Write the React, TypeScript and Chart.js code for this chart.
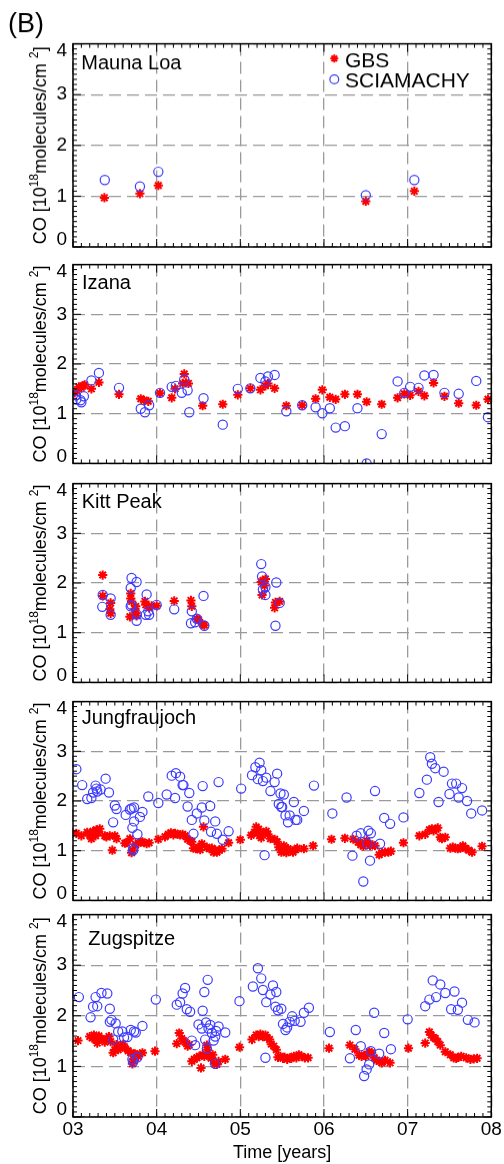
import React, { useEffect, useRef } from "react";
import { Chart, registerables } from "chart.js";

Chart.register(...registerables);

const FAMILY = '"Liberation Sans", Arial, Helvetica, sans-serif';
Chart.defaults.font.family = FAMILY;
Chart.defaults.color = "#000";

// ---------- labels ----------
const xTickLabels = ["03", "04", "05", "06", "07", "08"];
const yTickLabels = ["0", "1", "2", "3", "4"];
const stationNames = ["Mauna Loa", "Izana", "Kitt Peak", "Jungfraujoch", "Zugspitze"];
const seriesNames = ["GBS", "SCIAMACHY"];
const xTitle = "Time [years]";
const panelTag = "(B)";

type P = [number, number];

// ---------- data: [year since 2000, CO 1e18 molec/cm2] ----------
const maunaLoaGBS: P[] = [
  [3.375, 0.97], [3.8, 1.05], [4.02, 1.21], [6.5, 0.9], [7.08, 1.1],
];
const maunaLoaSCIA: P[] = [
  [3.38, 1.32], [3.8, 1.19], [4.02, 1.48], [6.5, 1.02], [7.08, 1.32],
];

const izanaGBS: P[] = [
  [3.02, 1.42], [3.05, 1.46], [3.07, 1.54], [3.1, 1.53], [3.12, 1.56], [3.14, 1.58],
  [3.22, 1.5], [3.31, 1.63], [3.55, 1.39], [3.81, 1.3], [3.85, 1.27], [3.9, 1.25],
  [4.04, 1.41], [4.18, 1.32], [4.22, 1.5], [4.31, 1.61], [4.33, 1.8], [4.35, 1.62],
  [4.38, 1.61], [4.55, 1.16], [4.79, 1.19], [4.97, 1.38], [5.12, 1.51], [5.24, 1.48],
  [5.3, 1.56], [5.33, 1.61], [5.41, 1.51], [5.55, 1.16], [5.74, 1.17], [5.9, 1.3],
  [5.98, 1.48], [6.07, 1.33], [6.14, 1.29], [6.25, 1.39], [6.4, 1.39], [6.51, 1.24],
  [6.69, 1.19], [6.88, 1.32], [6.96, 1.4], [7.03, 1.37], [7.13, 1.45], [7.2, 1.36],
  [7.31, 1.62], [7.44, 1.35], [7.61, 1.21], [7.82, 1.17], [7.96, 1.29],
];
const izanaSCIA: P[] = [
  [3.036, 1.37], [3.04, 1.29], [3.09, 1.27], [3.1, 1.23], [3.13, 1.35], [3.22, 1.67],
  [3.31, 1.82], [3.55, 1.52], [3.81, 1.1], [3.86, 1.03], [3.91, 1.17], [4.04, 1.42],
  [4.18, 1.54], [4.23, 1.56], [4.3, 1.42], [4.33, 1.69], [4.37, 1.47], [4.39, 1.03],
  [4.56, 1.31], [4.79, 0.78], [4.97, 1.5], [5.12, 1.51], [5.24, 1.72], [5.3, 1.65],
  [5.33, 1.75], [5.41, 1.78], [5.55, 1.05], [5.74, 1.17], [5.9, 1.13], [5.98, 1.01],
  [6.07, 1.11], [6.14, 0.72], [6.25, 0.75], [6.4, 1.11], [6.51, 0.0], [6.69, 0.59],
  [6.88, 1.65], [6.96, 1.42], [7.03, 1.54], [7.13, 1.52], [7.2, 1.77], [7.31, 1.78],
  [7.44, 1.42], [7.61, 1.4], [7.82, 1.66], [7.96, 0.93],
];

const kittPeakGBS: P[] = [
  [3.355, 2.16], [3.355, 1.74], [3.45, 1.6], [3.44, 1.47], [3.45, 1.39], [3.68, 1.32],
  [3.69, 1.79], [3.69, 1.69], [3.7, 1.63], [3.74, 1.48], [3.75, 1.4], [3.76, 1.34],
  [3.75, 1.53], [3.86, 1.63], [3.87, 1.56], [3.91, 1.5], [3.94, 1.54], [4.0, 1.54],
  [4.21, 1.64], [4.41, 1.65], [4.42, 1.53], [4.48, 1.28], [4.5, 1.26], [4.55, 1.17],
  [4.57, 1.15], [5.25, 2.02], [5.26, 1.76], [5.27, 2.05], [5.29, 1.95], [5.3, 2.08],
  [5.41, 1.5], [5.42, 1.61], [5.47, 1.63],
];
const kittPeakSCIA: P[] = [
  [3.355, 1.76], [3.35, 1.52], [3.45, 1.69], [3.45, 1.36], [3.7, 2.1], [3.69, 1.9],
  [3.69, 1.53], [3.7, 1.56], [3.76, 2.02], [3.76, 1.24], [3.76, 1.37], [3.88, 1.77],
  [3.87, 1.36], [3.91, 1.36], [3.9, 1.43], [4.0, 1.56], [4.21, 1.47], [4.42, 1.43],
  [4.41, 1.19], [4.46, 1.21], [4.48, 1.28], [4.56, 1.74], [4.57, 1.14], [5.25, 2.38],
  [5.26, 2.13], [5.27, 1.87], [5.3, 1.92], [5.3, 1.76], [5.43, 2.01], [5.42, 1.14],
  [5.47, 1.6],
];

const jungfraujochGBS: P[] = [
  [3.04, 1.35], [3.1, 1.3], [3.17, 1.37], [3.2, 1.31], [3.22, 1.24], [3.24, 1.39],
  [3.26, 1.35], [3.28, 1.42], [3.3, 1.37], [3.32, 1.44], [3.27, 1.3], [3.38, 1.3],
  [3.4, 1.28], [3.44, 1.3], [3.47, 1.01], [3.5, 1.3], [3.52, 1.24], [3.62, 1.15],
  [3.64, 1.16], [3.68, 1.24], [3.7, 0.96], [3.71, 1.01], [3.75, 1.12], [3.78, 1.16],
  [3.81, 1.17], [3.83, 1.18], [3.88, 1.14], [3.91, 1.16], [4.02, 1.23], [4.1, 1.28],
  [4.14, 1.33], [4.17, 1.36], [4.2, 1.32], [4.22, 1.35], [4.25, 1.33], [4.28, 1.32],
  [4.31, 1.33], [4.34, 1.3], [4.37, 1.23], [4.4, 1.2], [4.42, 1.18], [4.44, 1.05],
  [4.47, 1.04], [4.5, 1.07], [4.52, 1.02], [4.54, 1.14], [4.56, 1.48], [4.6, 1.07],
  [4.63, 1.04], [4.66, 1.05], [4.68, 0.97], [4.7, 1.01], [4.72, 0.97], [4.75, 1.01],
  [4.78, 1.04], [4.86, 1.16], [5.0, 1.22], [5.13, 1.31], [5.17, 1.37], [5.19, 1.48],
  [5.22, 1.43], [5.23, 1.3], [5.25, 1.26], [5.27, 1.35], [5.31, 1.39], [5.33, 1.33],
  [5.36, 1.24], [5.41, 1.23], [5.44, 1.18], [5.46, 1.07], [5.49, 0.97], [5.5, 1.05],
  [5.52, 1.1], [5.55, 0.96], [5.57, 1.04], [5.6, 1.01], [5.63, 0.97], [5.66, 1.02],
  [5.68, 1.05], [5.76, 1.04], [5.87, 1.1], [6.09, 1.23], [6.25, 1.25], [6.35, 1.23],
  [6.41, 1.17], [6.44, 1.12], [6.47, 1.09], [6.49, 1.16], [6.51, 1.2], [6.55, 1.1],
  [6.58, 1.12], [6.61, 1.1], [6.66, 0.92], [6.69, 0.96], [6.73, 0.97], [6.77, 0.97],
  [6.8, 0.99], [6.95, 1.16], [7.14, 1.3], [7.21, 1.33], [7.26, 1.42], [7.29, 1.44],
  [7.31, 1.4], [7.34, 1.43], [7.36, 1.46], [7.39, 1.27], [7.41, 1.24], [7.45, 1.27],
  [7.51, 1.05], [7.54, 1.07], [7.57, 1.05], [7.6, 1.04], [7.63, 1.05], [7.66, 1.1],
  [7.69, 1.05], [7.73, 1.01], [7.77, 0.97], [7.89, 1.09],
];
const jungfraujochSCIA: P[] = [
  [3.04, 2.64], [3.11, 2.32], [3.17, 2.04], [3.22, 2.06], [3.24, 2.17], [3.27, 2.31],
  [3.28, 2.25], [3.29, 2.19], [3.33, 2.23], [3.39, 2.45], [3.43, 2.17], [3.48, 1.57],
  [3.5, 1.91], [3.52, 1.84], [3.63, 1.72], [3.68, 1.83], [3.7, 1.85], [3.73, 1.87],
  [3.71, 1.46], [3.73, 1.59], [3.77, 1.33], [3.72, 1.05], [3.72, 1.01], [3.8, 1.68],
  [3.83, 1.78], [3.9, 2.09], [4.02, 1.96], [4.12, 2.13], [4.18, 2.51], [4.23, 2.56],
  [4.28, 2.49], [4.22, 2.06], [4.31, 2.32], [4.32, 2.32], [4.37, 1.89], [4.39, 2.16],
  [4.42, 1.62], [4.44, 1.34], [4.48, 1.75], [4.54, 1.87], [4.55, 2.3], [4.57, 1.61],
  [4.64, 1.9], [4.65, 1.38], [4.7, 1.59], [4.72, 1.34], [4.74, 2.38], [4.79, 1.22],
  [4.86, 1.39], [5.01, 2.25], [5.14, 2.52], [5.18, 2.68], [5.21, 2.44], [5.23, 2.77],
  [5.25, 2.62], [5.27, 2.4], [5.31, 2.47], [5.29, 0.91], [5.36, 2.2], [5.41, 2.38],
  [5.44, 2.55], [5.46, 1.94], [5.48, 2.15], [5.49, 1.88], [5.5, 1.88], [5.52, 2.13],
  [5.54, 1.71], [5.57, 1.57], [5.59, 1.71], [5.64, 1.98], [5.66, 1.62], [5.68, 1.62],
  [5.76, 1.8], [5.88, 2.31], [6.1, 1.75], [6.27, 2.07], [6.34, 0.9], [6.39, 1.3],
  [6.44, 1.35], [6.47, 0.38], [6.52, 1.14], [6.53, 1.4], [6.55, 0.8], [6.56, 1.35],
  [6.61, 2.2], [6.67, 1.14], [6.72, 1.66], [6.79, 1.54], [6.95, 1.67], [7.14, 2.16],
  [7.23, 2.43], [7.27, 2.88], [7.29, 2.75], [7.33, 2.66], [7.37, 1.98], [7.43, 2.59],
  [7.5, 2.14], [7.53, 2.35], [7.58, 2.35], [7.61, 2.07], [7.65, 2.26], [7.71, 2.0],
  [7.76, 1.75], [7.89, 1.81],
];

const zugspitzeGBS: P[] = [
  [3.06, 1.51], [3.2, 1.59], [3.23, 1.56], [3.25, 1.62], [3.27, 1.55], [3.29, 1.46],
  [3.31, 1.6], [3.34, 1.55], [3.38, 1.48], [3.4, 1.53], [3.43, 1.59], [3.45, 1.49],
  [3.48, 1.27], [3.5, 1.33], [3.52, 1.43], [3.54, 1.33], [3.57, 1.4], [3.6, 1.44],
  [3.62, 1.36], [3.66, 1.31], [3.69, 1.27], [3.72, 1.14], [3.71, 1.05], [3.74, 1.25],
  [3.76, 1.23], [3.78, 1.2], [3.83, 1.27], [3.98, 1.3], [4.24, 1.45], [4.27, 1.66],
  [4.3, 1.55], [4.32, 1.51], [4.34, 1.48], [4.37, 1.4], [4.39, 1.43], [4.42, 1.1],
  [4.45, 1.14], [4.48, 1.17], [4.51, 1.2], [4.53, 0.97], [4.55, 1.23], [4.57, 1.2],
  [4.6, 1.42], [4.61, 1.33], [4.63, 1.2], [4.65, 1.16], [4.67, 1.23], [4.69, 1.05],
  [4.72, 1.04], [4.74, 1.1], [4.82, 1.14], [4.99, 1.38], [5.14, 1.53], [5.19, 1.62],
  [5.22, 1.59], [5.24, 1.64], [5.27, 1.59], [5.3, 1.62], [5.32, 1.57], [5.35, 1.53],
  [5.37, 1.44], [5.4, 1.4], [5.43, 1.33], [5.45, 1.18], [5.48, 1.2], [5.51, 1.16],
  [5.53, 1.18], [5.56, 1.14], [5.59, 1.17], [5.61, 1.16], [5.64, 1.2], [5.67, 1.17],
  [5.7, 1.23], [5.73, 1.2], [5.77, 1.17], [5.81, 1.17], [6.06, 1.36], [6.31, 1.42],
  [6.37, 1.34], [6.42, 1.22], [6.45, 1.2], [6.48, 1.22], [6.5, 1.2], [6.54, 1.29],
  [6.57, 1.27], [6.6, 1.17], [6.63, 1.12], [6.66, 1.1], [6.69, 1.07], [6.73, 1.12],
  [6.79, 1.07], [7.01, 1.36], [7.21, 1.46], [7.26, 1.68], [7.28, 1.62], [7.31, 1.57],
  [7.33, 1.55], [7.36, 1.49], [7.39, 1.42], [7.45, 1.29], [7.51, 1.23], [7.55, 1.17],
  [7.58, 1.16], [7.6, 1.18], [7.64, 1.2], [7.7, 1.17], [7.75, 1.14], [7.79, 1.15],
  [7.83, 1.16],
];
const zugspitzeSCIA: P[] = [
  [3.07, 2.37], [3.21, 1.97], [3.24, 2.18], [3.27, 2.37], [3.29, 2.19], [3.34, 2.45],
  [3.41, 2.44], [3.44, 2.14], [3.44, 1.88], [3.46, 1.92], [3.51, 1.85], [3.48, 1.53],
  [3.54, 1.69], [3.59, 1.69], [3.61, 1.57], [3.65, 1.58], [3.69, 1.72], [3.73, 1.69],
  [3.75, 1.67], [3.71, 1.14], [3.72, 1.09], [3.77, 1.18], [3.83, 1.8], [3.99, 2.32],
  [4.24, 2.22], [4.28, 2.27], [4.31, 2.44], [4.34, 2.55], [4.36, 2.13], [4.4, 2.08],
  [4.42, 1.51], [4.46, 1.42], [4.5, 1.83], [4.54, 1.75], [4.55, 2.1], [4.57, 2.47],
  [4.58, 1.53], [4.59, 1.87], [4.6, 1.35], [4.61, 2.71], [4.62, 1.75], [4.64, 1.82],
  [4.66, 1.66], [4.68, 1.51], [4.7, 1.59], [4.71, 1.7], [4.74, 1.79], [4.7, 1.05],
  [4.82, 1.67], [4.99, 2.29], [5.15, 2.58], [5.21, 2.94], [5.25, 2.74], [5.27, 2.51],
  [5.31, 2.27], [5.3, 1.17], [5.36, 2.42], [5.39, 2.6], [5.43, 2.47], [5.42, 2.18],
  [5.45, 2.11], [5.49, 2.14], [5.51, 1.84], [5.54, 1.72], [5.56, 1.77], [5.59, 1.88],
  [5.62, 1.99], [5.65, 1.9], [5.72, 1.88], [5.76, 2.06], [5.82, 2.16], [6.07, 1.68],
  [6.31, 1.16], [6.38, 1.72], [6.44, 1.4], [6.48, 0.81], [6.51, 0.94], [6.54, 1.04],
  [6.56, 1.3], [6.6, 2.06], [6.66, 1.25], [6.72, 1.66], [6.8, 1.34], [7.0, 1.93],
  [7.21, 2.19], [7.26, 2.32], [7.3, 2.7], [7.34, 2.37], [7.39, 2.62], [7.45, 2.45],
  [7.52, 2.13], [7.56, 2.48], [7.6, 2.12], [7.65, 2.26], [7.72, 1.92], [7.8, 1.87],
];

const gbsSeries: P[][] = [maunaLoaGBS, izanaGBS, kittPeakGBS, jungfraujochGBS, zugspitzeGBS];
const sciaSeries: P[][] = [maunaLoaSCIA, izanaSCIA, kittPeakSCIA, jungfraujochSCIA, zugspitzeSCIA];

// ---------- layout ----------
const W = 504;
const H_PAGE = 1164;
const PLOT_TOPS = [43.6, 261.2, 479.5, 697.5, 910.8];
const PLOT_H = 206;
const PLOT_LEFT = 73;
const PLOT_RIGHT = 491.3;
const NAME_OFFSETS: [number, number][] = [[8.3, 25.7], [9, 24], [8.7, 24], [8.7, 22.5], [15.3, 30]];
const RED = "#ff0000";
const BLUE = "#3c3cff";

function drawStar(ctx: CanvasRenderingContext2D, x: number, y: number, r: number) {
  ctx.beginPath();
  for (let k = 0; k < 4; k++) {
    const a = (k * Math.PI) / 4;
    ctx.moveTo(x - Math.cos(a) * r, y - Math.sin(a) * r);
    ctx.lineTo(x + Math.cos(a) * r, y + Math.sin(a) * r);
  }
  ctx.stroke();
}

function makeFramePlugin(idx: number) {
  return {
    id: "frame" + idx,
    afterDraw(chart: any) {
      const { ctx, chartArea: a, scales } = chart;
      const xs = scales.x;
      const ys = scales.y;
      ctx.save();
      // box
      ctx.strokeStyle = "#000";
      ctx.lineWidth = 1.5;
      ctx.setLineDash([]);
      ctx.strokeRect(a.left, a.top, a.right - a.left, a.bottom - a.top);
      // inward ticks on all sides
      ctx.lineWidth = 1;
      ctx.beginPath();
      for (let i = 0; i <= 50; i++) {
        const px = xs.getPixelForValue(3 + i / 10);
        const len = i % 10 === 0 ? 8 : 4;
        ctx.moveTo(px, a.bottom);
        ctx.lineTo(px, a.bottom - len);
        ctx.moveTo(px, a.top);
        ctx.lineTo(px, a.top + len);
      }
      for (let i = 0; i <= 40; i++) {
        const py = ys.getPixelForValue(i / 10);
        const len = i % 10 === 0 ? 8 : 4;
        ctx.moveTo(a.left, py);
        ctx.lineTo(a.left + len, py);
        ctx.moveTo(a.right, py);
        ctx.lineTo(a.right - len, py);
      }
      ctx.stroke();

      // station name
      ctx.fillStyle = "#000";
      ctx.textAlign = "left";
      ctx.textBaseline = "alphabetic";
      ctx.font = `20px ${FAMILY}`;
      ctx.fillText(stationNames[idx], a.left + NAME_OFFSETS[idx][0], a.top + NAME_OFFSETS[idx][1]);

      // y axis title with superscripts
      const big = `18px ${FAMILY}`;
      const small = `12px ${FAMILY}`;
      const pieces: [string, string, number][] = [
        ["CO [10", big, 0],
        ["18", small, -8],
        ["molecules/cm", big, 0],
        [" ", big, 0],
        ["2", small, -8],
        ["]", big, 0],
      ];
      let total = 0;
      for (const [t, f] of pieces) {
        ctx.font = f;
        total += ctx.measureText(t).width;
      }
      ctx.save();
      ctx.translate(45.5, (a.top + a.bottom) / 2);
      ctx.rotate(-Math.PI / 2);
      let cx = -total / 2;
      for (const [t, f, dy] of pieces) {
        ctx.font = f;
        ctx.fillText(t, cx, dy);
        cx += ctx.measureText(t).width;
      }
      ctx.restore();

      if (idx === 0) {
        // panel tag
        ctx.font = `27px ${FAMILY}`;
        ctx.fillText(panelTag, 8, 31.7);
        // legend
        const mx = a.left + 261.3;
        ctx.strokeStyle = RED;
        ctx.lineWidth = 2;
        drawStar(ctx, mx, a.top + 14.7, 4);
        ctx.strokeStyle = BLUE;
        ctx.lineWidth = 1.2;
        ctx.beginPath();
        ctx.arc(mx, a.top + 35.4, 4.4, 0, Math.PI * 2);
        ctx.stroke();
        ctx.font = `21px ${FAMILY}`;
        ctx.fillStyle = "#000";
        ctx.fillText(seriesNames[0], 345, a.top + 23.4);
        ctx.fillText(seriesNames[1], 345, a.top + 43.4);
      }
      ctx.restore();
    },
  };
}

function buildConfig(idx: number, padTop: number, padBottom: number, xHeight: number): any {
  const isLast = idx === 4;
  return {
    type: "scatter",
    data: {
      datasets: [
        {
          label: seriesNames[0],
          data: gbsSeries[idx].map(([x, y]) => ({ x, y })),
          pointStyle: "star",
          pointRadius: 4.6,
          borderColor: RED,
          backgroundColor: RED,
          borderWidth: 2,
          order: 1,
        },
        {
          label: seriesNames[1],
          data: sciaSeries[idx].map(([x, y]) => ({ x, y })),
          pointStyle: "circle",
          pointRadius: 4.6,
          borderColor: BLUE,
          backgroundColor: "rgba(0,0,0,0)",
          borderWidth: 1.2,
          order: 0,
        },
      ],
    },
    options: {
      responsive: true,
      maintainAspectRatio: false,
      animation: false,
      events: [],
      layout: { padding: { top: padTop, bottom: padBottom, left: 0, right: W - PLOT_RIGHT } },
      plugins: {
        legend: { display: false },
        tooltip: { enabled: false },
        title: { display: false },
      },
      scales: {
        x: {
          type: "linear",
          position: "bottom",
          min: 3,
          max: 8,
          ticks: {
            display: isLast,
            stepSize: 1,
            padding: 1,
            color: "#000",
            font: { size: 19, family: FAMILY },
            maxRotation: 0,
            autoSkip: false,
            callback: (v: any) => xTickLabels[Math.round(Number(v) - 3)],
          },
          grid: { display: true, drawTicks: false, color: "#9a9a9a", lineWidth: 1.3 },
          border: { display: false, dash: [12, 6] },
          title: {
            display: isLast,
            text: xTitle,
            color: "#000",
            font: { size: 18, family: FAMILY },
            padding: { top: 0, bottom: 0 },
          },
          afterFit: (s: any) => {
            s.height = xHeight;
            s.paddingLeft = 0;
            s.paddingRight = 0;
            s.paddingTop = 0;
            s.paddingBottom = 0;
          },
        },
        y: {
          type: "linear",
          position: "left",
          min: 0,
          max: 4,
          ticks: {
            stepSize: 1,
            padding: 6,
            color: "#000",
            font: { size: 19, family: FAMILY, lineHeight: 0.72 },
            callback: (v: any) => {
              const n = Math.round(Number(v));
              const s = yTickLabels[n];
              if (n === 4) return ["", s];
              if (n === 0) return [s, ""];
              return s;
            },
          },
          grid: { display: true, drawTicks: false, color: "#9a9a9a", lineWidth: 1.3 },
          border: { display: false, dash: [12, 6] },
          afterFit: (s: any) => {
            s.width = PLOT_LEFT;
            s.paddingLeft = 0;
            s.paddingRight = 0;
            s.paddingTop = 0;
            s.paddingBottom = 0;
          },
        },
      },
    },
    plugins: [makeFramePlugin(idx)],
  };
}

function Panel({ idx }: { idx: number }) {
  const ref = useRef<HTMLCanvasElement>(null);
  const plotTop = PLOT_TOPS[idx];
  const top = idx === 0 ? 0 : plotTop - 3;
  const bottom = idx === 4 ? H_PAGE : plotTop + PLOT_H + 3;
  const padTop = plotTop - top;
  const padBottom = idx === 4 ? 0 : 3;
  const xHeight = idx === 4 ? H_PAGE - (plotTop + PLOT_H) : 0;

  useEffect(() => {
    if (!ref.current) return;
    const chart = new Chart(ref.current, buildConfig(idx, padTop, padBottom, xHeight));
    return () => chart.destroy();
  }, [idx]);

  return (
    <div style={{ position: "absolute", left: 0, top, width: W, height: bottom - top }}>
      <canvas ref={ref} />
    </div>
  );
}

export default function App() {
  return (
    <div
      style={{
        position: "absolute",
        left: 0,
        top: 0,
        width: W,
        height: H_PAGE,
        background: "#fff",
        overflow: "hidden",
      }}
    >
      {[0, 1, 2, 3, 4].map((i) => (
        <Panel key={i} idx={i} />
      ))}
    </div>
  );
}
